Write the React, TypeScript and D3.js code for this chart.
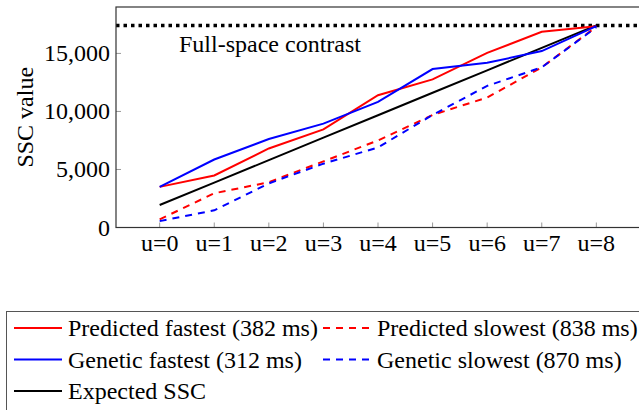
import React from "react";
import * as d3 from "d3";

const categories = ["u=0", "u=1", "u=2", "u=3", "u=4", "u=5", "u=6", "u=7", "u=8"];
const predictedFastest = [3500, 4480, 6810, 8450, 11400, 12760, 15050, 16860, 17350];
const geneticFastest = [3500, 5860, 7620, 8950, 10830, 13650, 14190, 15200, 17350];
const predictedSlowest = [700, 2950, 3900, 5700, 7500, 9700, 11200, 13800, 17300];
const geneticSlowest = [550, 1480, 3800, 5500, 6900, 9700, 12200, 13800, 17250];
const expectedSSC = [1935, 3870, 5805, 7740, 9675, 11610, 13545, 15480, 17415];
const fullSpace = 17415;
const yTicks = [0, 5000, 10000, 15000];

const series = [
  { name: "Predicted fastest (382 ms)", values: predictedFastest, color: "#ff0000", dash: "" },
  { name: "Genetic fastest (312 ms)", values: geneticFastest, color: "#0000ff", dash: "" },
  { name: "Predicted slowest (838 ms)", values: predictedSlowest, color: "#ff0000", dash: "7,6" },
  { name: "Genetic slowest (870 ms)", values: geneticSlowest, color: "#0000ff", dash: "7,6" },
  { name: "Expected SSC", values: expectedSSC, color: "#000000", dash: "" },
];

const legendOrder = [
  { s: 0, col: 0, row: 0 },
  { s: 2, col: 1, row: 0 },
  { s: 1, col: 0, row: 1 },
  { s: 3, col: 1, row: 1 },
  { s: 4, col: 0, row: 2 },
];

export default function App() {
  const W = 639, H = 410;
  const left = 116, right = 640, top = 7, bottom = 227.5;
  const x = d3.scaleLinear().domain([-0.8, 8.8]).range([left, right]);
  const y = d3.scaleLinear().domain([0, 19000]).range([bottom, top]);
  const line = d3.line<number>().x((_, i) => x(i)).y((v) => y(v));
  const font = "'Liberation Serif', 'Times New Roman', serif";
  const fs = 24;

  return (
    <svg width={W} height={H} style={{ position: "absolute", left: 0, top: 0, background: "#fff" }} fontFamily={font}>
      {categories.map((c, i) => (
        <g key={c}>
          <line x1={x(i)} x2={x(i)} y1={bottom} y2={bottom - 5} stroke="#999" strokeWidth={1} />
          <text x={x(i)} y={251} fontSize={fs} textAnchor="middle" fill="#000">{c}</text>
        </g>
      ))}
      {yTicks.map((t) => (
        <g key={t}>
          <line x1={left} x2={left + 5} y1={y(t)} y2={y(t)} stroke="#999" strokeWidth={1} />
          <text x={110} y={y(t) + 8} fontSize={fs} textAnchor="end" fill="#000">{d3.format(",")(t)}</text>
        </g>
      ))}
      <text transform={`translate(33,${(top + bottom) / 2}) rotate(-90)`} fontSize={fs} textAnchor="middle" fill="#000">SSC value</text>
      <line x1={left} x2={right} y1={y(fullSpace)} y2={y(fullSpace)} stroke="#000" strokeWidth={3.5} strokeDasharray="3.5,4" />
      <text x={179} y={52} fontSize={fs} fill="#000">Full-space contrast</text>
      {[4, 0, 1, 2, 3].map((k) => {
        const s = series[k];
        return (
          <path key={s.name} d={line(s.values) || ""} fill="none" stroke={s.color} strokeWidth={2} strokeDasharray={s.dash} />
        );
      })}
      <rect x={left} y={top} width={right - left} height={bottom - top} fill="none" stroke="#333" strokeWidth={1.2} />
      <rect x={6.5} y={311.5} width={640} height={110} fill="#fff" stroke="#555" strokeWidth={1} />
      {legendOrder.map(({ s, col, row }) => {
        const sr = series[s];
        const lx = col === 0 ? 14 : 323;
        const ly = 328 + row * 31.5;
        return (
          <g key={sr.name}>
            <line x1={lx} x2={lx + 48} y1={ly} y2={ly} stroke={sr.color} strokeWidth={2} strokeDasharray={sr.dash ? "7,6" : ""} />
            <text x={lx + 54} y={ly + 8} fontSize={fs} fill="#000">{sr.name}</text>
          </g>
        );
      })}
    </svg>
  );
}
